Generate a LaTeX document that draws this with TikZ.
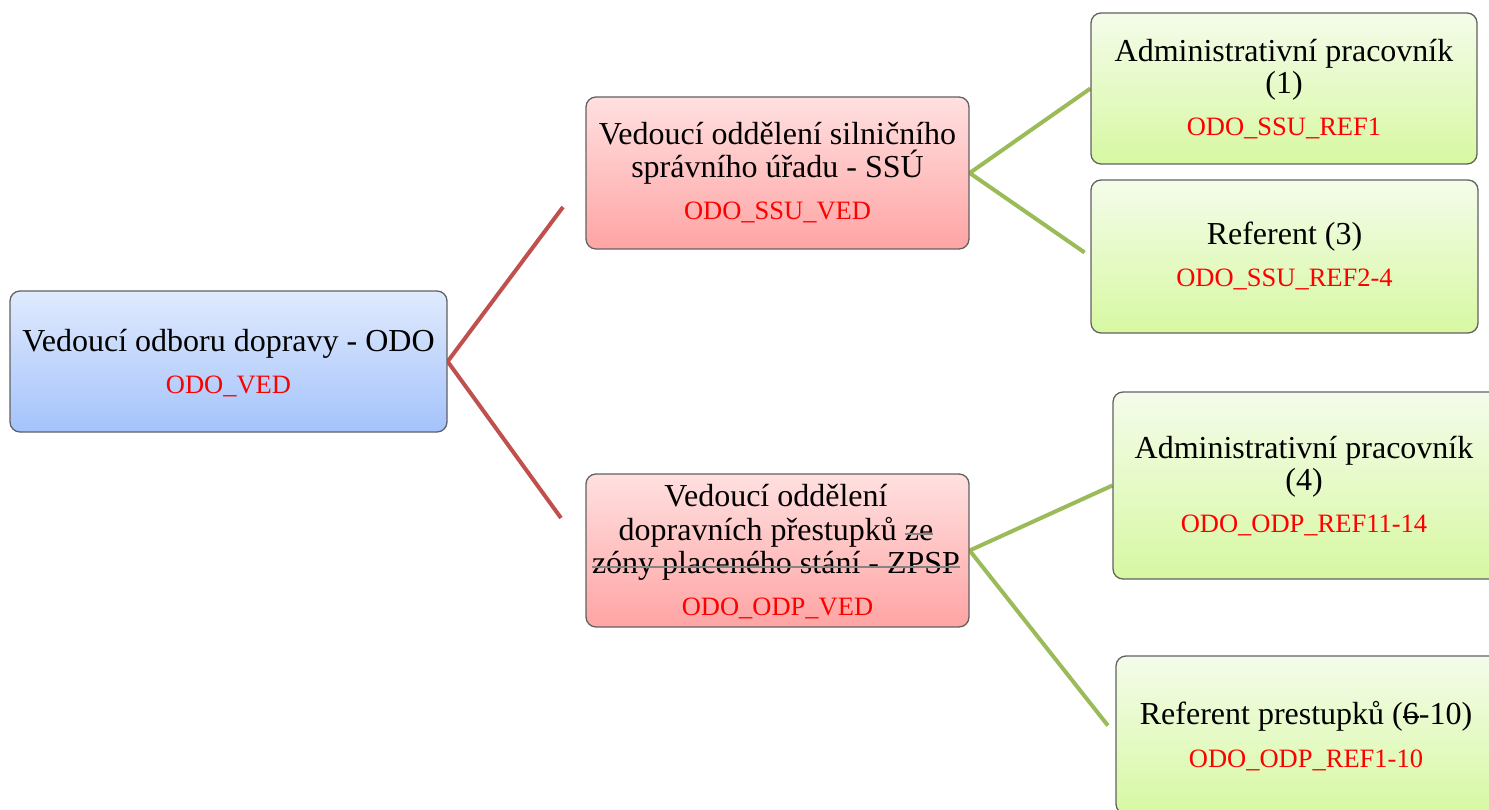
\documentclass[tikz,border=0pt]{standalone}
\usepackage{fontspec}
\setmainfont{Liberation Serif}
\usetikzlibrary{backgrounds}
\definecolor{redline}{HTML}{C0504D}
\definecolor{greenline}{HTML}{9BBB59}
\definecolor{blueTop}{HTML}{E0EAFD}
\definecolor{blueBot}{HTML}{A4C3FB}
\definecolor{redTop}{HTML}{FFE0E0}
\definecolor{redBot}{HTML}{FFA4A4}
\definecolor{greenTop}{HTML}{F4FCEA}
\definecolor{greenBot}{HTML}{D7F8A2}
\definecolor{strikegray}{HTML}{858585}
\definecolor{codered}{HTML}{FF0000}
\newsavebox\mystrikebox
\newcommand\graystrike[1]{\sbox\mystrikebox{#1}\usebox\mystrikebox\llap{\textcolor{strikegray}{\rule[5pt]{\wd\mystrikebox}{2.4pt}}}}
\newcommand\darkstrike[1]{\sbox\mystrikebox{#1}\usebox\mystrikebox\llap{\textcolor{black}{\rule[6.3pt]{\wd\mystrikebox}{1.8pt}}}}
\tikzset{
  box/.style={rectangle, rounded corners=10pt, draw=black!62, line width=1.3pt, inner sep=0pt},
  bluebox/.style={box, top color=blueTop, bottom color=blueBot},
  redbox/.style={box, top color=redTop, bottom color=redBot},
  greenbox/.style={box, top color=greenTop, bottom color=greenBot},
  blk/.style={anchor=base, inner sep=0pt, font=\fontsize{32}{33}\selectfont},
  code/.style={anchor=base, inner sep=0pt, text=codered, font=\fontsize{26.5}{28}\selectfont},
  redconn/.style={draw=redline, line width=4pt, line join=miter},
  greenconn/.style={draw=greenline, line width=4pt, line join=miter},
}
\begin{document}
\begin{tikzpicture}[x=1pt,y=-1pt]
\useasboundingbox (0,0) rectangle (1489,810);
% boxes
\node[bluebox, minimum width=437pt, minimum height=141pt] (odo) at (228.5,361.5) {};
\node[redbox, minimum width=383pt, minimum height=152pt] (ssu) at (777.5,173) {};
\node[redbox, minimum width=383pt, minimum height=153pt] (odp) at (777.5,550.5) {};
\node[greenbox, minimum width=386pt, minimum height=151pt] (a1) at (1284,88.5) {};
\node[greenbox, minimum width=387pt, minimum height=153pt] (r3) at (1284.5,256.5) {};
\node[greenbox, minimum width=386pt, minimum height=187pt] (a4) at (1306,485.5) {};
\node[greenbox, minimum width=386pt, minimum height=158pt] (rp) at (1309,735) {};
% texts
\node[blk] (odoT) at (228.5,352) {Vedoucí odboru dopravy - ODO};
\node[code] (odoC) at (228.5,393) {ODO\_VED};
\node[blk] (ssuT1) at (777.5,145) {Vedoucí oddělení silničního};
\node[blk] (ssuT2) at (777.5,178) {správního úřadu - SSÚ};
\node[code] (ssuC) at (777.5,220) {ODO\_SSU\_VED};
\node[blk] (odpT1) at (776,506) {Vedoucí oddělení};
\node[blk] (odpT2) at (776,540) {dopravních přestupků \graystrike{ze}};
\node[blk] (odpT3) at (776,573) {\graystrike{zóny placeného stání - ZPSP}};
\node[code] (odpC) at (777.5,615) {ODO\_ODP\_VED};
\node[blk] (a1T1) at (1284,62) {Administrativní pracovník};
\node[blk] (a1T2) at (1284,94) {(1)};
\node[code] (a1C) at (1284,136) {ODO\_SSU\_REF1};
\node[blk] (r3T) at (1284.5,245) {Referent (3)};
\node[code] (r3C) at (1284.5,287) {ODO\_SSU\_REF2-4};
\node[blk] (a4T1) at (1304,458) {Administrativní pracovník};
\node[blk] (a4T2) at (1304,490) {(4)};
\node[code] (a4C) at (1304,532) {ODO\_ODP\_REF11-14};
\node[blk] (rpT) at (1306,724) {Referent prestupků (\darkstrike{6}-10)};
\node[code] (rpC) at (1306,767) {ODO\_ODP\_REF1-10};
% connectors
\coordinate (r1) at (563,207);
\coordinate (r2) at (561,518);
\begin{scope}[on background layer]
\draw[redconn] (r1) -- (odo.east) -- (r2);
\draw[greenconn, shorten >=7pt] (a1.west) -- (ssu.east) -- (r3.west);
\draw[greenconn, shorten >=12pt] (a4.west) -- (odp.east) -- (rp.west);
\end{scope}
\end{tikzpicture}
\end{document}
